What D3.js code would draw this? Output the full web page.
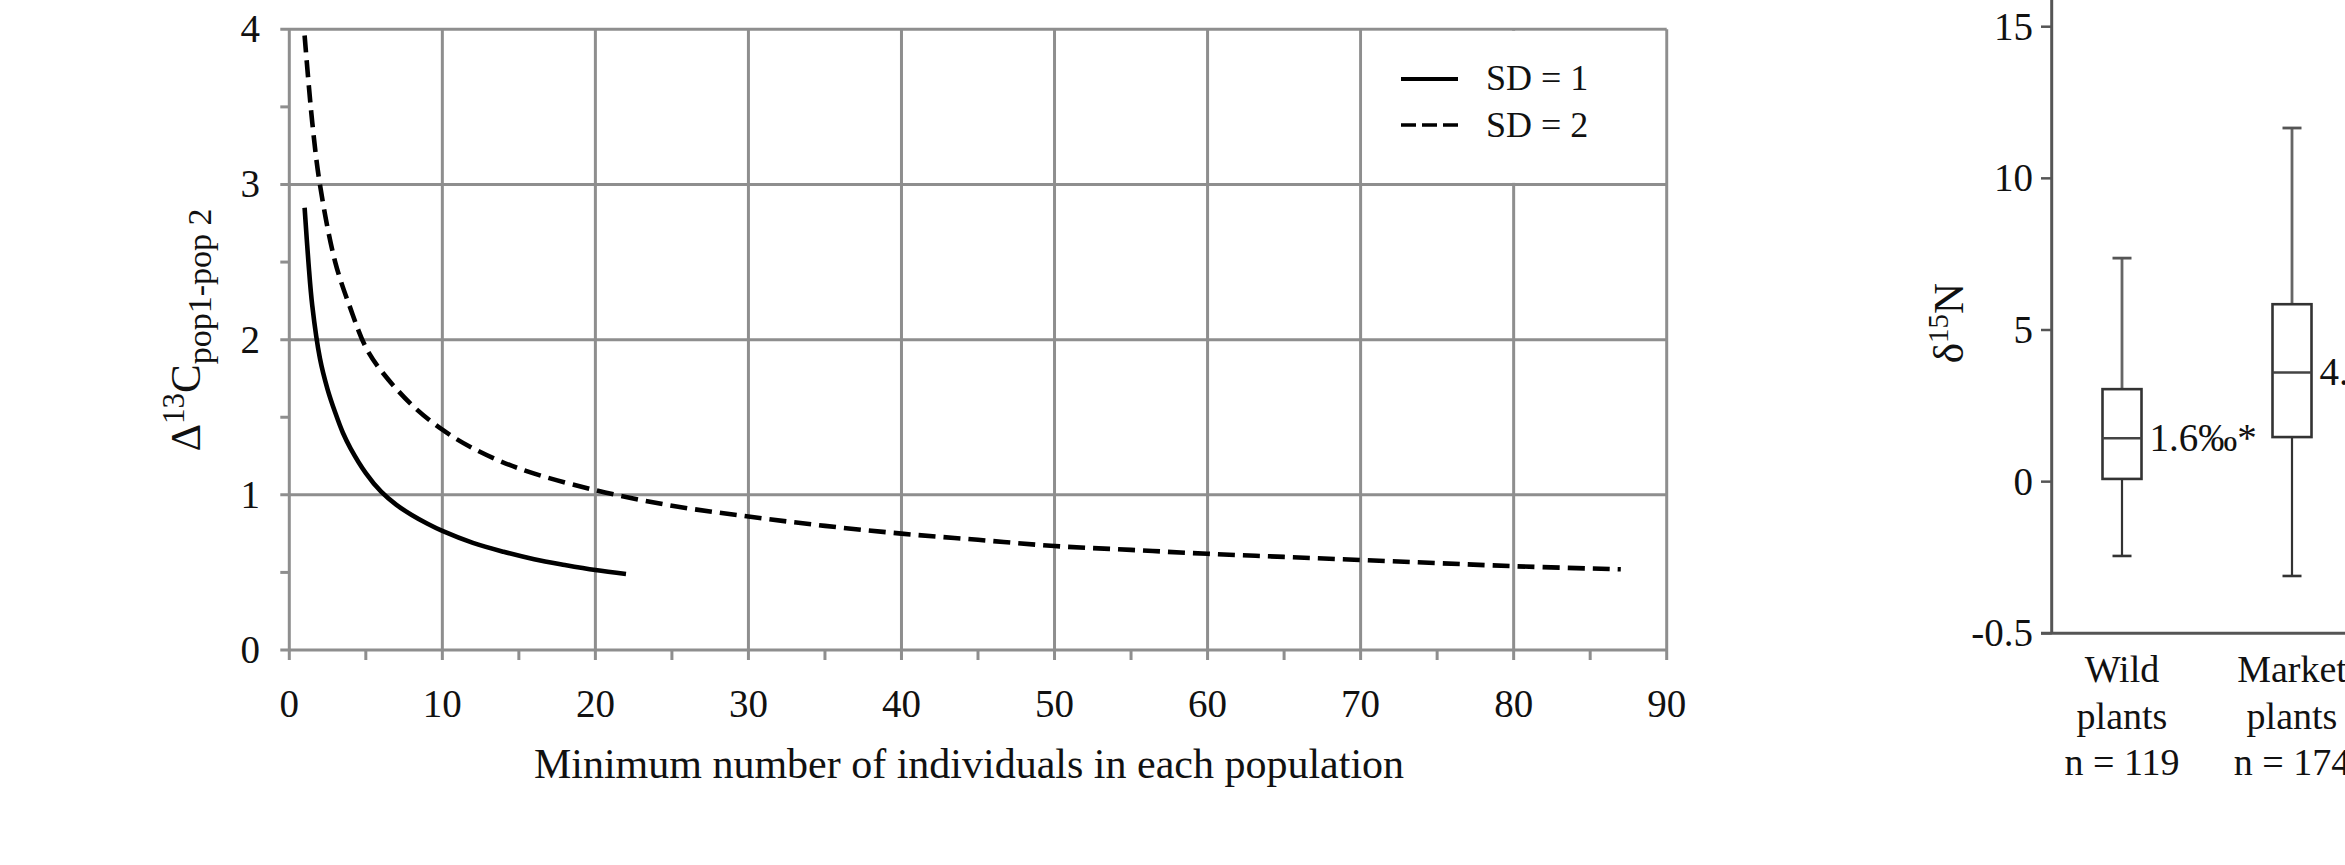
<!DOCTYPE html>
<html>
<head>
<meta charset="utf-8">
<script src="https://cdn.jsdelivr.net/npm/d3@7"></script>
<style>
  html, body { margin: 0; padding: 0; background: #fff; overflow: hidden; }
  svg { display: block; }
  text { font-family: "Liberation Serif", "Times New Roman", serif; fill: #111; }
</style>
</head>
<body>
<svg id="chart" width="2345" height="865"></svg>
<script>
// ---------- data: left panel ----------
const xTickValues = [0, 10, 20, 30, 40, 50, 60, 70, 80, 90];
const xMinorTicks = [5, 15, 25, 35, 45, 55, 65, 75, 85];
const yTickValues = [0, 1, 2, 3, 4];
const yMinorTicks = [0.5, 1.5, 2.5, 3.5];

const sd1X = [1, 1.25, 1.5, 2, 2.5, 3, 3.5, 4, 5, 6, 7, 8, 9, 10, 12, 14, 16, 18, 20, 22];
const sd1Y = [2.85, 2.50, 2.22, 1.88, 1.68, 1.53, 1.40, 1.30, 1.14, 1.02, 0.935, 0.87, 0.815, 0.767, 0.69, 0.633, 0.585, 0.548, 0.515, 0.49];

const sd2X = [1, 1.5, 2, 3, 4, 5, 6, 8, 10, 12, 15, 20, 25, 30, 35, 40, 45, 50, 55, 60, 65, 70, 75, 80, 87];
const sd2Y = [3.96, 3.40, 3.00, 2.50, 2.20, 1.95, 1.80, 1.58, 1.42, 1.30, 1.17, 1.03, 0.93, 0.86, 0.80, 0.75, 0.71, 0.67, 0.645, 0.62, 0.60, 0.58, 0.56, 0.54, 0.52];

const legendLabels = ["SD = 1", "SD = 2"];
const xTitle = "Minimum number of individuals in each population";

// ---------- data: right panel (box plot) ----------
const boxCategories = ["Wild", "Market"];
const boxLabelLines = [["Wild", "plants", "n = 119"], ["Market", "plants", "n = 174"]];
const boxWhiskerHigh = [7.37, 11.66];
const boxQ3 = [3.05, 5.85];
const boxMedian = [1.43, 3.60];
const boxQ1 = [0.09, 1.47];
const boxWhiskerLow = [-2.45, -3.11];
const boxNotes = ["1.6\u2030*", "4."];
const bTickValues = [-5, 0, 5, 10, 15];
const bTickLabels = ["-0.5", "0", "5", "10", "15"];

// ---------- drawing ----------
const svg = d3.select("#chart");
const grid = "#8e8e8e";

const x = d3.scaleLinear().domain([0, 90]).range([289.3, 1666.7]);
const y = d3.scaleLinear().domain([0, 4]).range([650, 29.3]);

const L = svg.append("g");

L.selectAll("line.hgrid").data(yTickValues).join("line")
  .attr("x1", x(0) - 9).attr("x2", x(90))
  .attr("y1", d => y(d)).attr("y2", d => y(d))
  .attr("stroke", grid).attr("stroke-width", 3);
L.selectAll("line.vgrid").data(xTickValues).join("line")
  .attr("x1", d => x(d)).attr("x2", d => x(d))
  .attr("y1", y(4)).attr("y2", y(0) + 10)
  .attr("stroke", grid).attr("stroke-width", 3);
L.selectAll("line.ymin").data(yMinorTicks).join("line")
  .attr("x1", x(0) - 9).attr("x2", x(0))
  .attr("y1", d => y(d)).attr("y2", d => y(d))
  .attr("stroke", grid).attr("stroke-width", 3);
L.selectAll("line.xmin").data(xMinorTicks).join("line")
  .attr("x1", d => x(d)).attr("x2", d => x(d))
  .attr("y1", y(0)).attr("y2", y(0) + 10)
  .attr("stroke", grid).attr("stroke-width", 3);

L.append("rect")
  .attr("x", x(70) + 1.6).attr("y", y(4) + 1.6)
  .attr("width", x(90) - x(70) - 3.2).attr("height", y(3) - y(4) - 3.2)
  .attr("fill", "#fff");

L.selectAll("text.yl").data(yTickValues).join("text")
  .attr("x", 260).attr("y", d => y(d) + 13)
  .attr("text-anchor", "end").attr("font-size", 39)
  .text(d => d);
L.selectAll("text.xl").data(xTickValues).join("text")
  .attr("x", d => x(d)).attr("y", 717)
  .attr("text-anchor", "middle").attr("font-size", 39)
  .text(d => d);

L.append("text").attr("x", 969).attr("y", 778)
  .attr("text-anchor", "middle").attr("font-size", 42).text(xTitle);

const yt = L.append("text")
  .attr("transform", "translate(200,330) rotate(-90)")
  .attr("text-anchor", "middle").attr("font-size", 43);
yt.append("tspan").text("\u0394");
yt.append("tspan").attr("font-size", 31).attr("dy", -16).text("13");
yt.append("tspan").attr("font-size", 43).attr("dy", 16).text("C");
yt.append("tspan").attr("font-size", 34).attr("dy", 11).text("pop1-pop 2");

const line = d3.line().x(d => x(d[0])).y(d => y(d[1])).curve(d3.curveCatmullRom.alpha(0.5));
L.append("path").datum(sd1X.map((v, i) => [v, sd1Y[i]]))
  .attr("d", line).attr("fill", "none").attr("stroke", "#000")
  .attr("stroke-width", 4.6);
L.append("path").datum(sd2X.map((v, i) => [v, sd2Y[i]]))
  .attr("d", line).attr("fill", "none").attr("stroke", "#000")
  .attr("stroke-width", 4.6).attr("stroke-dasharray", "17,8");

const lg = L.append("g");
lg.selectAll("line").data(legendLabels).join("line")
  .attr("x1", 1401).attr("x2", 1458)
  .attr("y1", (d, i) => 79 + i * 46).attr("y2", (d, i) => 79 + i * 46)
  .attr("stroke", "#000").attr("stroke-width", (d, i) => i === 0 ? 4 : 3.5)
  .attr("stroke-dasharray", (d, i) => i === 0 ? null : "15,6");
lg.selectAll("text").data(legendLabels).join("text")
  .attr("x", 1486).attr("y", (d, i) => 90 + i * 47)
  .attr("font-size", 36).text(d => d);

// ---------- right panel ----------
const by = d3.scaleLinear().domain([-5, 15]).range([633.3, 26.7]);
const bx = d3.scalePoint().domain(boxCategories).range([2037, 2377]).padding(0.5);
const R = svg.append("g");
const axisCol = "#555";
const bw = 39;

R.append("line").attr("x1", 2051.7).attr("x2", 2051.7).attr("y1", 0).attr("y2", by(-5))
  .attr("stroke", axisCol).attr("stroke-width", 3);
R.append("line").attr("x1", 2041).attr("x2", 2345).attr("y1", by(-5)).attr("y2", by(-5))
  .attr("stroke", axisCol).attr("stroke-width", 3);
R.selectAll("line.bt").data(bTickValues).join("line")
  .attr("x1", 2041).attr("x2", 2051.7)
  .attr("y1", d => by(d)).attr("y2", d => by(d))
  .attr("stroke", axisCol).attr("stroke-width", 2.5);
R.selectAll("text.bl").data(bTickValues).join("text")
  .attr("x", 2033).attr("y", d => by(d) + 13)
  .attr("text-anchor", "end").attr("font-size", 39)
  .text((d, i) => bTickLabels[i]);

const yt2 = R.append("text")
  .attr("transform", "translate(1963,323) rotate(-90)")
  .attr("text-anchor", "middle").attr("font-size", 43);
yt2.append("tspan").text("\u03b4");
yt2.append("tspan").attr("font-size", 29).attr("dy", -15).text("15");
yt2.append("tspan").attr("font-size", 43).attr("dy", 15).text("N");

boxCategories.forEach((c, i) => {
  const cx = bx(c);
  const g = R.append("g");
  g.append("line").attr("x1", cx).attr("x2", cx).attr("y1", by(boxWhiskerHigh[i])).attr("y2", by(boxQ3[i]))
    .attr("stroke", "#666").attr("stroke-width", 2.8);
  g.append("line").attr("x1", cx - 9.5).attr("x2", cx + 9.5).attr("y1", by(boxWhiskerHigh[i])).attr("y2", by(boxWhiskerHigh[i]))
    .attr("stroke", "#555").attr("stroke-width", 2.8);
  g.append("line").attr("x1", cx).attr("x2", cx).attr("y1", by(boxQ1[i])).attr("y2", by(boxWhiskerLow[i]))
    .attr("stroke", "#333").attr("stroke-width", 2.2);
  g.append("line").attr("x1", cx - 9.5).attr("x2", cx + 9.5).attr("y1", by(boxWhiskerLow[i])).attr("y2", by(boxWhiskerLow[i]))
    .attr("stroke", "#333").attr("stroke-width", 2.6);
  g.append("rect").attr("x", cx - bw / 2).attr("y", by(boxQ3[i]))
    .attr("width", bw).attr("height", by(boxQ1[i]) - by(boxQ3[i]))
    .attr("fill", "#fff").attr("stroke", "#333").attr("stroke-width", 2.6);
  g.append("line").attr("x1", cx - bw / 2).attr("x2", cx + bw / 2).attr("y1", by(boxMedian[i])).attr("y2", by(boxMedian[i]))
    .attr("stroke", "#444").attr("stroke-width", 2.6);
  g.append("text").attr("x", cx + bw / 2 + 8).attr("y", by(boxMedian[i]) + 13)
    .attr("font-size", 39).text(boxNotes[i]);
  g.selectAll("text.cat").data(boxLabelLines[i]).join("text")
    .attr("x", cx).attr("y", (d, j) => 682 + j * 46.7)
    .attr("text-anchor", "middle").attr("font-size", 38).text(d => d);
});
</script>
</body>
</html>
